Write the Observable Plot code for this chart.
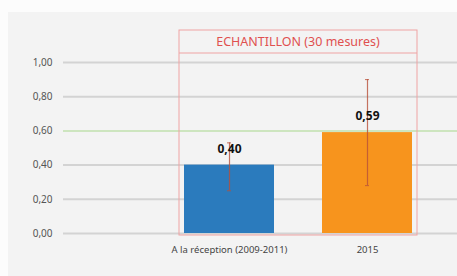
<!DOCTYPE html>
<html><head><meta charset="utf-8">
<script src="https://cdn.jsdelivr.net/npm/d3@7"></script>
<script src="https://cdn.jsdelivr.net/npm/@observablehq/plot@0.6"></script>
<style>
html,body{margin:0;padding:0;background:#fcfcfc;}
#wrap{position:relative;width:457px;height:276px;overflow:hidden;}
#panel{position:absolute;left:8px;top:12px;right:0;bottom:0;background:#f3f3f3;}
#chart{position:absolute;left:0;top:0;}
</style></head>
<body><div id="wrap"><div id="panel"></div><div id="chart"></div></div>
<script>
const categories = ["A la réception (2009-2011)", "2015"];
const values = [0.40, 0.59];
const errLow = [0.25, 0.28];
const errHigh = [0.53, 0.90];
const colors = ["#2b7bbd", "#f7941d"];
const yTicks = [0, 0.2, 0.4, 0.6, 0.8, 1.0];
const threshold = 0.60;
const boxTitle = "ECHANTILLON (30 mesures)";

const data = categories.map((c, i) => ({cat: c, v: values[i], lo: errLow[i], hi: errHigh[i], color: colors[i]}));
const fr = v => d3.format(".2f")(v).replace(".", ",");
const font = "'Noto Sans', 'Liberation Sans', sans-serif";

function boxMark(index, scales, values, dim) {
  const x0 = scales.x(categories[0]) - 5;
  const x1 = scales.x(categories[categories.length - 1]) + scales.x.bandwidth() + 5;
  const yBottom = scales.y(0) + 2;
  const yTop = scales.y(1) - 32;
  const yDiv = scales.y(1) - 9;
  const g = d3.create("svg:g");
  g.append("rect").attr("x", x0).attr("y", yTop).attr("width", x1 - x0).attr("height", yBottom - yTop)
    .attr("fill", "none").attr("stroke", "#efa3a3").attr("stroke-width", 1);
  g.append("line").attr("x1", x0).attr("x2", x1).attr("y1", yDiv).attr("y2", yDiv)
    .attr("stroke", "#efa3a3").attr("stroke-width", 1);
  g.append("text").attr("x", (x0 + x1) / 2).attr("y", (yTop + yDiv) / 2).attr("dy", "0.35em")
    .attr("text-anchor", "middle").attr("fill", "#e0504f").attr("font-size", 12.5)
    .attr("font-family", font).text(boxTitle);
  return g.node();
}

const plot = Plot.plot({
  width: 457,
  height: 276,
  marginLeft: 63,
  marginRight: 0,
  marginTop: 62,
  marginBottom: 43,
  style: {background: "transparent", fontFamily: font},
  x: {domain: categories, range: [160, 437], paddingInner: 0.345, paddingOuter: 0.169, label: null},
  y: {domain: [0, 1], label: null},
  marks: [
    Plot.ruleY(yTicks, {stroke: "#d3d3d3", strokeWidth: 2}),
    Plot.ruleY([threshold], {stroke: "#cde5bf", strokeWidth: 2}),
    Plot.axisY({ticks: yTicks, tickSize: 0, tickPadding: 11, tickFormat: fr, fontSize: 10, fill: "#555"}),
    Plot.axisX({tickSize: 0, tickPadding: 13, fontSize: 9.5, fill: "#444"}),
    boxMark,
    Plot.barY(data, {x: "cat", y: "v", fill: "color"}),
    Plot.ruleX(data, {x: "cat", y1: "lo", y2: "hi", stroke: "#b8503a", strokeWidth: 1.2, strokeOpacity: 0.8}),
    Plot.tickY(data, {x: "cat", y: "lo", stroke: "#b8503a", inset: 43, strokeOpacity: 0.8}),
    Plot.tickY(data, {x: "cat", y: "hi", stroke: "#b8503a", inset: 43, strokeOpacity: 0.8}),
    Plot.text(data, {x: "cat", y: "v", text: d => fr(d.v), dy: -16, fontSize: 12, fontWeight: "bold", fill: "#111"})
  ]
});
document.getElementById("chart").appendChild(plot);
</script></body></html>
